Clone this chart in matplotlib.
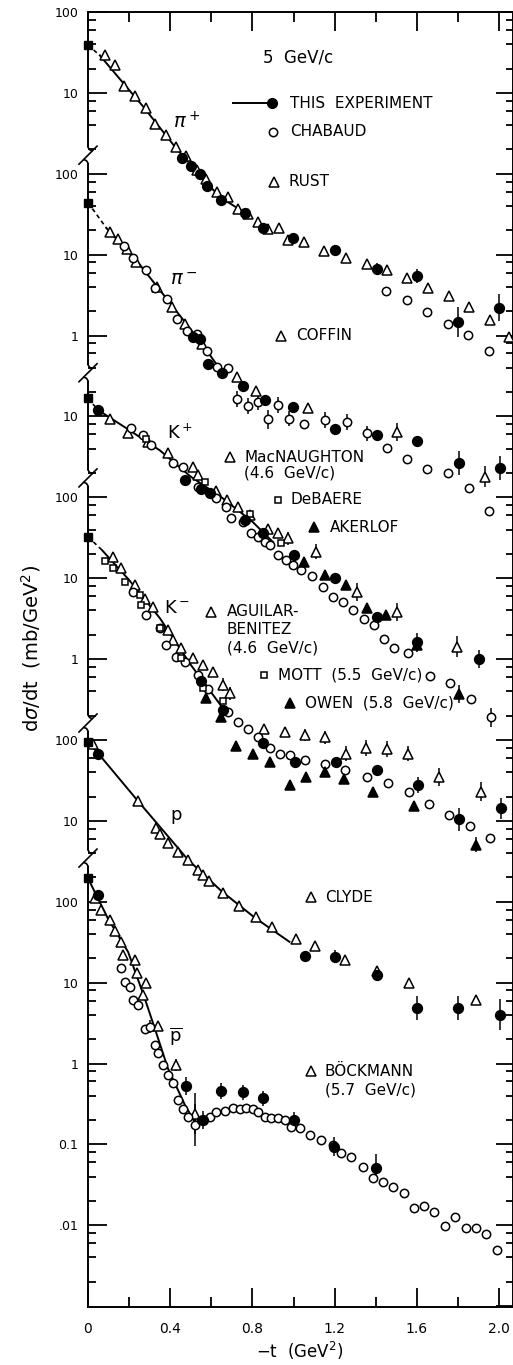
import numpy as np
import matplotlib
matplotlib.use("Agg")
import matplotlib.pyplot as plt
from matplotlib.ticker import FixedLocator, FuncFormatter, NullFormatter

plt.rcParams['font.family'] = ['DejaVu Sans']
plt.rcParams['mathtext.fontset'] = 'dejavusans'

# ===================== DATA (t in GeV^2, dsigma/dt in mb/GeV^2) =====================
# ---- pi+ ----
pip_sq = 39.0
pip_fit_t = [0.058, 0.27, 0.43, 0.50, 0.58, 0.65, 0.78]
pip_fit_v = [29.0, 6.7, 2.05, 1.3, 0.75, 0.50, 0.31]
pip_exp_t = [0.455, 0.50, 0.543, 0.58, 0.649, 0.762, 0.853, 0.999, 1.203, 1.405, 1.60, 1.80, 2.00]
pip_exp_v = [1.55, 1.24, 1.0, 0.70, 0.47, 0.33, 0.215, 0.162, 0.113, 0.066, 0.054, 0.0147, 0.0222]
pip_exp_e = [1, 1, 1, 1, 1, 1, 1, 1.15, 1, 1.19, 1.22, 1.53, 1.45]
pip_cha_t = [1.45, 1.55, 1.65, 1.75, 1.85, 1.95]
pip_cha_v = [0.0358, 0.0279, 0.0193, 0.0139, 0.0103, 0.0065]
pip_rust_t = [0.083, 0.131, 0.175, 0.229, 0.281, 0.326, 0.378, 0.427, 0.477, 0.529, 0.575, 0.630,
              0.682, 0.731, 0.779, 0.827, 0.877, 0.931, 0.975, 1.051, 1.148, 1.255, 1.356, 1.456,
              1.551, 1.653, 1.757, 1.855, 1.956, 2.049]
pip_rust_v = [29.3, 22.1, 12.2, 9.1, 6.5, 4.07, 3.0, 2.16, 1.64, 1.11, 0.85, 0.60,
              0.51, 0.37, 0.32, 0.25, 0.205, 0.211, 0.151, 0.142, 0.112, 0.090, 0.0765, 0.0645,
              0.0508, 0.039, 0.0308, 0.0227, 0.0156, 0.0095]

# ---- pi- ----
pim_sq = 44.0
pim_fit_t = [0.091, 0.234, 0.407, 0.553, 0.65]
pim_fit_v = [21.1, 8.6, 2.38, 0.80, 0.36]
pim_exp_t = [0.509, 0.545, 0.585, 0.651, 0.756, 0.861, 0.999, 1.203, 1.408, 1.600, 1.805, 2.005]
pim_exp_v = [0.97, 0.91, 0.45, 0.347, 0.238, 0.16, 0.13, 0.0695, 0.059, 0.0497, 0.0268, 0.0228]
pim_exp_e = [1, 1, 1, 1, 1, 1, 1, 1, 1, 1, 1.41, 1.41]
pim_cha_t = [0.177, 0.220, 0.282, 0.326, 0.383, 0.432, 0.480, 0.529, 0.581, 0.629, 0.683,
             0.727, 0.780, 0.826, 0.877, 0.926, 0.980, 1.051, 1.153, 1.259, 1.359,
             1.456, 1.551, 1.651, 1.753, 1.854, 1.951]
pim_cha_v = [12.9, 9.0, 6.45, 3.82, 2.87, 1.59, 1.14, 1.06, 0.65, 0.41, 0.40,
             0.164, 0.134, 0.152, 0.092, 0.138, 0.094, 0.080, 0.091, 0.086, 0.0617,
             0.0402, 0.0297, 0.0221, 0.0201, 0.0129, 0.0068]
pim_cha_e = [1] * 11 + [1.25, 1.25, 1.25, 1.3, 1.25, 1.25] + [1] + [1.25, 1.25, 1.25] + [1] * 6
pim_cof_t = [0.107, 0.147, 0.188, 0.234, 0.334, 0.407, 0.472, 0.553, 0.727, 0.816, 1.072, 1.502, 1.932]
pim_cof_v = [19.2, 15.6, 11.9, 8.2, 4.0, 2.27, 1.37, 0.78, 0.31, 0.206, 0.126, 0.0647, 0.018]
pim_cof_e = [1] * 11 + [1.3, 1.35]

# ---- K+ ----
kp_sq = 16.7
kp_fit_t = [0.049, 0.2, 0.35, 0.5, 0.65, 0.8, 0.9]
kp_fit_v = [12.0, 6.8, 3.8, 1.8, 1.0, 0.5, 0.28]
kp_exp_t = [0.049, 0.471, 0.548, 0.592, 0.763, 0.852, 1.002, 1.203, 1.408, 1.602, 1.903]
kp_exp_v = [12.0, 1.64, 1.27, 1.12, 0.52, 0.358, 0.195, 0.0995, 0.0334, 0.0161, 0.0100]
kp_exp_e = [1] * 9 + [1.3, 1.3]
kp_cha_t = [0.211, 0.268, 0.308, 0.414, 0.462, 0.535, 0.624, 0.673, 0.697, 0.754,
            0.795, 0.827, 0.860, 0.884, 0.925, 0.965, 0.998, 1.038, 1.090, 1.142,
            1.191, 1.239, 1.291, 1.343, 1.392, 1.440, 1.490, 1.559, 1.664, 1.762,
            1.862, 1.960]
kp_cha_v = [7.1, 5.9, 4.43, 2.62, 2.39, 1.35, 0.97, 0.77, 0.55, 0.50,
            0.358, 0.326, 0.283, 0.257, 0.194, 0.168, 0.146, 0.126, 0.107, 0.077,
            0.059, 0.051, 0.041, 0.031, 0.0264, 0.0175, 0.0138, 0.0118, 0.0061, 0.0050,
            0.0032, 0.0019]
kp_cha_e = [1] * 31 + [1.3]
kp_mac_t = [0.106, 0.195, 0.292, 0.389, 0.511, 0.535, 0.624, 0.678, 0.730, 0.787, 0.876, 0.925,
            0.975, 1.108, 1.308, 1.502, 1.794]
kp_mac_v = [9.4, 6.2, 4.87, 3.49, 2.39, 1.89, 1.20, 0.93, 0.77, 0.60, 0.41, 0.36,
            0.31, 0.213, 0.068, 0.0385, 0.0142]
kp_mac_e = [1] * 12 + [1.2, 1.25, 1.3, 1.3, 1.35]
kp_ake_t = [1.051, 1.153, 1.255, 1.359, 1.450, 1.600, 1.805]
kp_ake_v = [0.16, 0.11, 0.082, 0.043, 0.035, 0.0151, 0.0037]
kp_ake_e = [1, 1, 1, 1, 1, 1.2, 1.3]
kp_deb_t = [0.282, 0.569, 0.790, 0.938]
kp_deb_v = [5.3, 1.56, 0.615, 0.27]

# ---- K- ----
km_sq = 32.6
km_fit_t = [0.07, 0.2, 0.35, 0.5, 0.66]
km_fit_v = [22.0, 9.5, 3.2, 0.85, 0.24]
km_exp_t = [0.551, 0.657, 0.852, 1.006, 1.208, 1.408, 1.606, 1.805, 2.011]
km_exp_v = [0.53, 0.235, 0.093, 0.053, 0.054, 0.042, 0.0278, 0.0104, 0.0143]
km_exp_e = [1, 1, 1, 1, 1, 1, 1.25, 1.4, 1.35]
km_cha_t = [0.219, 0.284, 0.349, 0.381, 0.430, 0.471, 0.535, 0.584, 0.681, 0.730,
            0.779, 0.827, 0.884, 0.933, 0.982, 1.054, 1.155, 1.252, 1.356, 1.460,
            1.561, 1.658, 1.757, 1.857, 1.958]
km_cha_v = [6.8, 3.5, 2.4, 1.49, 1.07, 0.93, 0.636, 0.43, 0.224, 0.168,
            0.137, 0.110, 0.079, 0.068, 0.065, 0.057, 0.050, 0.042, 0.035, 0.029,
            0.023, 0.016, 0.0118, 0.0086, 0.0061]
km_agu_t = [0.122, 0.162, 0.227, 0.276, 0.316, 0.389, 0.414, 0.454, 0.511, 0.560, 0.608,
            0.657, 0.690, 0.856, 0.957, 1.057, 1.155, 1.254, 1.354, 1.456, 1.557, 1.707, 1.911]
km_agu_v = [18.4, 13.2, 8.2, 5.6, 4.4, 2.29, 1.72, 1.36, 1.02, 0.85, 0.685,
            0.48, 0.377, 0.137, 0.127, 0.115, 0.108, 0.068, 0.079, 0.077, 0.068, 0.035, 0.023]
km_agu_e = [1] * 11 + [1.2, 1.2, 1, 1, 1.2, 1.2, 1.25, 1.25, 1.25, 1.25, 1.3, 1.3]
km_mott_t = [0.081, 0.122, 0.179, 0.252, 0.259, 0.349, 0.454, 0.560, 0.657]
km_mott_v = [16.3, 13.2, 9.1, 6.2, 4.7, 2.4, 1.02, 0.44, 0.30]
km_owen_t = [0.576, 0.646, 0.722, 0.803, 0.884, 0.982, 1.062, 1.152, 1.246, 1.387, 1.586, 1.890]
km_owen_v = [0.33, 0.194, 0.085, 0.067, 0.054, 0.0278, 0.035, 0.0406, 0.0326, 0.0225, 0.0153, 0.0051]
km_owen_e = [1.15, 1.15, 1.15, 1, 1, 1.15, 1.15, 1.15, 1, 1.1, 1.15, 1.25]

# ---- p ----
p_sq = 95.0
p_fit_t = [0.05, 0.243, 0.487, 0.65, 0.81, 0.98]
p_fit_v = [68.0, 17.6, 3.3, 1.35, 0.64, 0.32]
p_exp_t = [0.049, 1.055, 1.203, 1.408, 1.602, 1.802, 2.005]
p_exp_v = [68.0, 0.214, 0.21, 0.124, 0.049, 0.049, 0.040]
p_exp_e = [1, 1.1, 1.2, 1.2, 1.4, 1.4, 1.55]
p_cly_t = [0.024, 0.243, 0.332, 0.349, 0.389, 0.438, 0.487, 0.535, 0.560, 0.587, 0.657, 0.735,
           0.816, 0.897, 1.014, 1.106, 1.252, 1.404, 1.562, 1.888]
p_cly_v = [88.0, 17.6, 8.1, 6.8, 5.3, 4.1, 3.3, 2.47, 2.14, 1.81, 1.27, 0.89,
           0.64, 0.49, 0.343, 0.284, 0.191, 0.14, 0.098, 0.061]

# ---- pbar ----
pb_sq = 195.0
pb_fit_t = [0.097, 0.195, 0.276, 0.325, 0.389, 0.471, 0.519]
pb_fit_v = [62.0, 24.0, 6.4, 2.72, 0.87, 0.31, 0.19]
pb_exp_t = [0.049, 0.478, 0.560, 0.649, 0.754, 0.852, 1.002, 1.197, 1.403]
pb_exp_v = [121.0, 0.53, 0.20, 0.46, 0.44, 0.37, 0.20, 0.094, 0.051]
pb_exp_e = [1, 1.3, 1.3, 1.25, 1.25, 1.25, 1.25, 1.3, 1.5]
pb_boc_t = [0.033, 0.065, 0.106, 0.130, 0.162, 0.170, 0.227, 0.240, 0.268, 0.284, 0.341, 0.430, 0.519]
pb_boc_v = [110.0, 79.0, 60.0, 43.0, 32.0, 22.0, 19.1, 13.0, 7.0, 9.8, 2.94, 0.96, 0.24]
pb_boc_e = [1] * 11 + [1.2, 1.8]
pb_cha_t = [0.162, 0.179, 0.203, 0.219, 0.243, 0.276, 0.300, 0.325, 0.341, 0.365,
            0.389, 0.414, 0.438, 0.462, 0.487, 0.519, 0.551, 0.592, 0.624, 0.665,
            0.706, 0.738, 0.770, 0.803, 0.827, 0.860, 0.892, 0.925, 0.957, 0.989,
            1.030, 1.079, 1.135, 1.192, 1.233, 1.281, 1.338, 1.387, 1.436, 1.484,
            1.538, 1.586, 1.635, 1.685, 1.737, 1.786, 1.839, 1.888, 1.937, 1.992]
pb_cha_v = [15.0, 10.1, 8.9, 6.1, 5.3, 2.7, 2.86, 1.70, 1.34, 0.96,
            0.72, 0.57, 0.355, 0.275, 0.221, 0.174, 0.20, 0.221, 0.254, 0.26,
            0.28, 0.275, 0.285, 0.275, 0.254, 0.221, 0.21, 0.21, 0.20, 0.166,
            0.158, 0.131, 0.114, 0.099, 0.078, 0.069, 0.053, 0.038, 0.034, 0.030,
            0.0249, 0.0162, 0.0174, 0.0145, 0.0098, 0.0127, 0.0092, 0.0092, 0.0077, 0.0049]
pb_cha_e = [1] * 6 + [1.2] + [1] * 8 + [1.8] + [1] * 34

# axis tick labels
x_ticks = [0.0, 0.4, 0.8, 1.2, 1.6, 2.0]
x_ticklabels = ['0', '0.4', '0.8', '1.2', '1.6', '2.0']
x_minor = [0.2, 0.6, 1.0, 1.4, 1.8]
y_labels = {2: '100', 1: '10', 0: '1', -1: '0.1', -2: '.01'}

# ===================== LAYOUT =====================
W, H = 513, 1365
L, R, T, B = 88, 513, 12, 1307
PX_PER_T = 205.5
XMAX = (R - L) / PX_PER_T
G_LO, G_HI = -0.01, 16.0          # global decade range of the stacked scale

fig = plt.figure(figsize=(W / 100, H / 100), dpi=100)
rect = [L / W, 1 - B / H, (R - L) / W, (B - T) / H]


def gy(g):
    return B - (g - G_LO) / (G_HI - G_LO) * (B - T)


frame = fig.add_axes(rect)
frame.set_xlim(0, XMAX)
frame.set_yscale('log')
frame.set_ylim(10 ** G_LO, 10 ** G_HI)
frame.spines['left'].set_visible(False)
for s in ('top', 'right', 'bottom'):
    frame.spines[s].set_linewidth(1.4)
frame.xaxis.set_major_locator(FixedLocator(x_ticks))
frame.xaxis.set_minor_locator(FixedLocator(x_minor))
frame.set_xticklabels(x_ticklabels)
frame.tick_params(axis='x', which='both', direction='in', top=True, bottom=True,
                  labelsize=10, pad=10.5, width=1.3)
frame.tick_params(axis='x', which='major', length=14)
frame.tick_params(axis='x', which='minor', length=7)
frame.yaxis.set_major_locator(FixedLocator([10.0 ** k for k in range(0, 17)]))
frame.yaxis.set_minor_locator(FixedLocator(
    [m * 10.0 ** k for k in range(-1, 17) for m in (2, 4, 6, 8)
     if G_LO < k + np.log10(m) < G_HI]))
frame.yaxis.set_major_formatter(NullFormatter())
frame.yaxis.set_minor_formatter(NullFormatter())
frame.tick_params(axis='y', which='both', direction='in', left=False, right=True,
                  labelleft=False, labelright=False, width=1.3)
frame.tick_params(axis='y', which='major', length=12)
frame.tick_params(axis='y', which='minor', length=5)

BREAKS = [14.23, 11.54, 10.24, 7.21, 5.54]
edges = [G_HI] + BREAKS + [G_LO]
offsets = [14, 12, 10, 8, 5, 3]


def make_panel(i):
    off = offsets[i]
    seg_hi, seg_lo = edges[i], edges[i + 1]
    hi_m = -0.001 if i == 0 else 0.06
    lo_m = 0.05 if i == len(offsets) - 1 else 0.06
    ax = fig.add_axes(rect)
    ax.set_xlim(0, XMAX)
    ax.set_yscale('log')
    ax.set_ylim(10 ** (G_LO - off), 10 ** (G_HI - off))
    ax.patch.set_visible(False)
    for s in ax.spines.values():
        s.set_visible(False)
    ax.tick_params(axis='x', which='both', bottom=False, top=False, labelbottom=False)
    lo, hi = seg_lo - off + lo_m, seg_hi - off - hi_m
    majors = [10.0 ** k for k in range(-4, 4) if lo <= k <= hi]
    minors = [m * 10.0 ** k for k in range(-4, 4) for m in (2, 4, 6, 8)
              if lo <= k + np.log10(m) <= hi]
    ax.yaxis.set_major_locator(FixedLocator(majors))
    ax.yaxis.set_minor_locator(FixedLocator(minors))
    ax.yaxis.set_major_formatter(FuncFormatter(
        lambda v, p: y_labels.get(int(round(np.log10(v))), '')))
    ax.yaxis.set_minor_formatter(NullFormatter())
    ax.tick_params(axis='y', which='both', direction='in', left=True, right=False,
                   labelsize=9, pad=7, width=1.3)
    ax.tick_params(axis='y', which='major', length=14)
    ax.tick_params(axis='y', which='minor', length=6)
    return ax


def pts(ax, t, v, marker, filled, ms, err=None):
    t = np.asarray(t, float)
    v = np.asarray(v, float)
    if err is not None:
        e = np.asarray(err, float)
        m = e > 1
        if m.any():
            ax.errorbar(t[m], v[m], yerr=[v[m] - v[m] / e[m], v[m] * e[m] - v[m]],
                        fmt='none', ecolor='black', elinewidth=1.1, capsize=0,
                        zorder=2, clip_on=False)
    ax.plot(t, v, linestyle='none', marker=marker, ms=ms,
            mfc='black' if filled else 'white', mec='black', mew=1.1,
            zorder=3, clip_on=False)


def fit(ax, sq, ft, fv, dashed):
    if dashed:
        ax.plot([0, ft[0]], [sq, fv[0]], color='black', lw=1.2, ls=(0, (2.5, 2)), zorder=1)
        ax.plot(ft, fv, color='black', lw=1.4, zorder=1)
    else:
        ax.plot([0] + list(ft), [sq] + list(fv), color='black', lw=1.4, zorder=1)
    ax.plot([0], [sq], linestyle='none', marker='s', ms=6, mfc='black', mec='black',
            zorder=4, clip_on=False)


OC, FC, TR, SQ = 6, 7, 7, 5

# pi+
ax = make_panel(0)
fit(ax, pip_sq, pip_fit_t, pip_fit_v, True)
pts(ax, pip_rust_t, pip_rust_v, '^', False, TR)
pts(ax, pip_cha_t, pip_cha_v, 'o', False, OC)
pts(ax, pip_exp_t, pip_exp_v, 'o', True, FC, pip_exp_e)

# pi-
ax = make_panel(1)
fit(ax, pim_sq, pim_fit_t, pim_fit_v, True)
pts(ax, pim_cof_t, pim_cof_v, '^', False, TR, pim_cof_e)
pts(ax, pim_cha_t, pim_cha_v, 'o', False, OC, pim_cha_e)
pts(ax, pim_exp_t, pim_exp_v, 'o', True, FC, pim_exp_e)

# K+
ax = make_panel(2)
fit(ax, kp_sq, kp_fit_t, kp_fit_v, True)
pts(ax, kp_mac_t, kp_mac_v, '^', False, TR, kp_mac_e)
pts(ax, kp_cha_t, kp_cha_v, 'o', False, OC, kp_cha_e)
pts(ax, kp_deb_t, kp_deb_v, 's', False, SQ)
pts(ax, kp_ake_t, kp_ake_v, '^', True, TR, kp_ake_e)
pts(ax, kp_exp_t, kp_exp_v, 'o', True, FC, kp_exp_e)

# K-
ax = make_panel(3)
fit(ax, km_sq, km_fit_t, km_fit_v, True)
pts(ax, km_agu_t, km_agu_v, '^', False, TR, km_agu_e)
pts(ax, km_cha_t, km_cha_v, 'o', False, OC)
pts(ax, km_mott_t, km_mott_v, 's', False, SQ)
pts(ax, km_owen_t, km_owen_v, '^', True, TR, km_owen_e)
pts(ax, km_exp_t, km_exp_v, 'o', True, FC, km_exp_e)

# p
ax = make_panel(4)
fit(ax, p_sq, p_fit_t, p_fit_v, False)
pts(ax, p_cly_t, p_cly_v, '^', False, TR)
pts(ax, p_exp_t, p_exp_v, 'o', True, FC, p_exp_e)

# pbar
ax = make_panel(5)
fit(ax, pb_sq, pb_fit_t, pb_fit_v, False)
pts(ax, pb_boc_t, pb_boc_v, '^', False, TR, pb_boc_e)
pts(ax, pb_cha_t, pb_cha_v, 'o', False, OC, pb_cha_e)
pts(ax, pb_exp_t, pb_exp_v, 'o', True, FC, pb_exp_e)

# ===================== overlay: broken left axis, texts =====================
ov = fig.add_axes([0, 0, 1, 1])
ov.set_xlim(0, W)
ov.set_ylim(H, 0)
ov.axis('off')
ov.set_zorder(10)

GAP = 8
for i in range(len(edges) - 1):
    ytop = gy(edges[i]) + (GAP if i > 0 else 0)
    ybot = gy(edges[i + 1]) - (GAP if i < len(edges) - 2 else 0)
    ov.plot([L, L], [ytop, ybot], color='black', lw=1.4, solid_capstyle='butt')
for g in BREAKS:
    yb = gy(g)
    ov.plot([L - 9, L + 9], [yb + 9, yb - 9], color='black', lw=1.2)
    ov.plot([L, L + 1.5, L + 4], [yb - GAP, yb - GAP + 2.5, yb - GAP + 3.5], color='black', lw=1.2)
    ov.plot([L - 4, L - 1.5, L], [yb + GAP - 3.5, yb + GAP - 2.5, yb + GAP], color='black', lw=1.2)

FS = 11
ov.text(263, 57, '5  GeV/c', fontsize=12, va='center', ha='left')

ov.plot([233, 272], [103, 103], color='black', lw=1.4)
ov.plot([272], [103], 'o', ms=FC, color='black')
ov.text(290, 103, 'THIS  EXPERIMENT', fontsize=FS, va='center', ha='left')


def leg(x, y, marker, filled, ms, tx, text):
    ov.plot([x], [y], marker=marker, linestyle='none', ms=ms,
            mfc='black' if filled else 'white', mec='black', mew=1.1)
    ov.text(tx, y, text, fontsize=FS, va='center', ha='left')


leg(273, 132, 'o', False, OC, 290, 'CHABAUD')
leg(274, 182, '^', False, TR, 288, 'RUST')
leg(281, 336, '^', False, TR, 296, 'COFFIN')
leg(230, 457, '^', False, TR, 244, 'MacNAUGHTON')
ov.text(244, 473, '(4.6  GeV/c)', fontsize=FS, va='center', ha='left')
leg(278, 500, 's', False, SQ, 290, 'DeBAERE')
leg(314, 527, '^', True, TR, 330, 'AKERLOF')
leg(211, 612, '^', False, TR, 227, 'AGUILAR-')
ov.text(227, 630, 'BENITEZ', fontsize=FS, va='center', ha='left')
ov.text(227, 648, '(4.6  GeV/c)', fontsize=FS, va='center', ha='left')
leg(264, 675, 's', False, SQ, 278, 'MOTT  (5.5  GeV/c)')
leg(290, 703, '^', True, TR, 305, 'OWEN  (5.8  GeV/c)')
leg(311, 897, '^', False, TR, 325, 'CLYDE')
leg(311, 1071, '^', False, TR, 325, 'BÖCKMANN')
ov.text(325, 1090, '(5.7  GeV/c)', fontsize=FS, va='center', ha='left')

PL = 14
ov.text(187, 122, r'$\pi^+$', fontsize=PL, ha='center', va='center')
ov.text(184, 279, r'$\pi^-$', fontsize=PL, ha='center', va='center')
ov.text(180, 433, r'K$^+$', fontsize=13, ha='center', va='center')
ov.text(177, 608, r'K$^-$', fontsize=13, ha='center', va='center')
ov.text(176, 815, 'p', fontsize=13, ha='center', va='center')
ov.text(176, 1036, r'$\overline{\mathrm{p}}$', fontsize=13, ha='center', va='center')

ov.text(31, 648, r'd$\sigma$/dt  (mb/GeV$^2$)', fontsize=14, rotation=90, ha='center', va='center')
ov.text(300, 1351, r'$-$t  (GeV$^2$)', fontsize=12, ha='center', va='center')

fig.savefig('out.png', dpi=100)
